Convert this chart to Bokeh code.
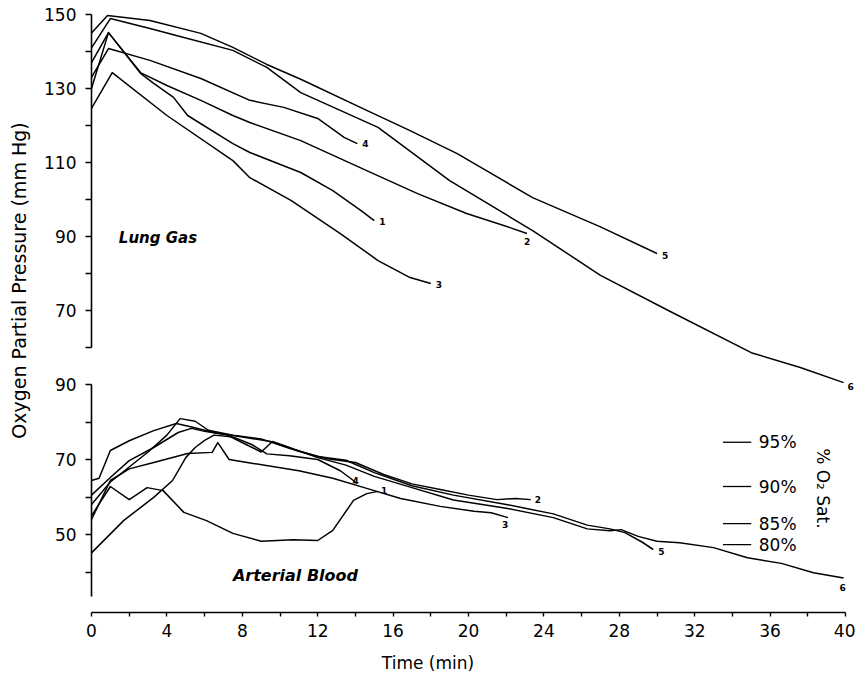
import math
from bokeh.plotting import figure
from bokeh.models import Range1d, LinearAxis, FixedTicker, Label
from bokeh.core.properties import value
from bokeh.embed import file_html
from bokeh.resources import INLINE

# ---------------- data ----------------
# Lung gas PO2 (mm Hg) vs time (min), subjects 1-6
lung1_t = [0, 0.9, 2.6, 3.3, 4.35, 5.1, 7.5, 8.4, 11.1, 12.8, 14.3, 15.0]
lung1_p = [130, 145.1, 134.1, 131.4, 127.6, 122.7, 115.1, 112.7, 107.3, 102.4, 97.0, 94.3]
lung2_t = [0, 0.9, 2.6, 4.0, 5.8, 7.5, 8.4, 11.1, 14.6, 17.3, 19.9, 22.2, 23.1]
lung2_p = [137, 145.1, 134.3, 130.8, 126.8, 122.7, 120.8, 115.9, 107.8, 101.6, 96.2, 92.4, 90.8]
lung3_t = [0, 1.1, 4.0, 7.5, 8.4, 10.6, 13.2, 15.2, 16.9, 18.0]
lung3_p = [124.6, 134.3, 122.7, 110.5, 105.9, 99.7, 90.8, 83.5, 78.9, 77.3]
lung4_t = [0, 0.9, 3.1, 5.8, 8.4, 10.2, 12.0, 13.4, 14.1]
lung4_p = [133, 140.8, 137.6, 132.7, 126.8, 124.9, 121.9, 116.8, 115.1]
lung5_t = [0, 0.85, 3.1, 5.8, 7.5, 9.3, 11.1, 14.6, 16.9, 19.4, 23.4, 27.0, 30.0]
lung5_p = [145, 149.7, 148.4, 144.9, 141.1, 136.5, 132.5, 124.1, 118.6, 112.4, 100.5, 92.6, 85.4]
lung6_t = [0, 1.0, 3.1, 4.9, 7.5, 9.3, 11.1, 15.2, 19.0, 23.4, 27.0, 30.6, 35.0, 37.6, 39.9]
lung6_p = [141, 148.9, 146.2, 143.8, 140.3, 135.7, 128.9, 119.5, 105.1, 91.6, 79.5, 70.0, 58.6, 54.6, 50.5]

# Arterial blood PO2 (mm Hg) vs time (min), subjects 1-6
blood1_t = [0, 1.0, 2.0, 2.95, 3.8, 4.9, 6.1, 7.5, 9.0, 10.7, 12.0, 12.8, 13.9, 14.6, 15.2]
blood1_p = [55, 62.8, 59.3, 62.5, 61.7, 55.9, 53.7, 50.3, 48.2, 48.6, 48.4, 51.1, 59.1, 60.9, 61.5]
blood2_t = [0, 0.4, 1.0, 2.0, 3.3, 4.5, 5.2, 6.5, 8.0, 9.5, 11.0, 12.5, 14.0, 15.5, 17.0, 18.5, 20.0, 21.5, 22.5, 23.3]
blood2_p = [64.4, 65.0, 72.4, 75.0, 77.7, 79.6, 78.8, 77.2, 76.0, 74.8, 72.2, 70.2, 69.2, 66.0, 63.5, 62.0, 60.5, 59.3, 59.6, 59.3]
blood3_t = [0, 1.0, 2.0, 3.3, 5.1, 6.4, 6.7, 7.3, 8.5, 11.0, 12.8, 14.6, 16.4, 18.5, 20.3, 21.2, 22.1]
blood3_p = [54.0, 64.4, 67.5, 69.2, 71.6, 71.9, 74.5, 70.0, 69.0, 67.0, 65.0, 62.3, 59.6, 57.5, 56.2, 55.8, 54.5]
blood4_t = [0, 1.7, 3.3, 4.3, 5.0, 5.5, 6.0, 6.5, 7.5, 8.5, 9.3, 10.5, 12.0, 13.2, 14.0]
blood4_p = [45.1, 53.7, 59.9, 64.4, 70.5, 73.2, 75.1, 76.5, 76.0, 74.0, 71.5, 71.0, 70.0, 67.0, 64.0]
blood5_t = [0, 1.0, 2.0, 3.0, 4.0, 4.7, 5.5, 6.2, 7.5, 9.0, 10.5, 12.0, 13.5, 15.0, 17.0, 19.2, 22.0, 24.5, 26.3, 27.5, 28.3, 29.2, 29.8]
blood5_p = [58, 64, 68, 72, 76.5, 80.9, 80.2, 77.8, 76.5, 75.5, 73.0, 70.8, 69.8, 66.5, 63.0, 60.5, 58.0, 55.5, 52.5, 51.5, 50.5, 48.0, 46.0]
blood6_t = [0, 1.0, 2.0, 3.3, 4.6, 5.3, 6.0, 7.2, 8.2, 9.0, 9.6, 10.5, 12.0, 13.5, 15.0, 17.0, 19.2, 22.0, 24.5, 26.3, 27.5, 28.1, 29.0, 30.0, 31.2, 33.0, 34.8, 36.6, 38.3, 39.9]
blood6_p = [60.5, 65.2, 69.7, 73.2, 77.2, 78.3, 77.5, 76.5, 74.0, 72.0, 74.8, 73.2, 70.5, 68.5, 65.5, 62.5, 59.2, 57.0, 54.5, 51.5, 51.0, 51.3, 49.5, 48.2, 47.8, 46.5, 43.8, 42.3, 39.8, 38.4]

subject_ids = ["1", "2", "3", "4", "5", "6"]

# axes ticks
x_ticks = [0, 4, 8, 12, 16, 20, 24, 28, 32, 36, 40]
x_minor = [2, 6, 10, 14, 18, 22, 26, 30, 34, 38]
lung_ticks = [70, 90, 110, 130, 150]
lung_minor = [60, 80, 100, 120, 140]
blood_ticks = [50, 70, 90]
blood_minor = [40, 60, 80]

# oxygen saturation scale (label, equivalent PO2)
sat_labels = ["95%", "90%", "85%", "80%"]
sat_po2 = [74.6, 62.8, 52.9, 47.3]

# ---------------- figure ----------------
lung_series = [(lung1_t, lung1_p), (lung2_t, lung2_p), (lung3_t, lung3_p),
               (lung4_t, lung4_p), (lung5_t, lung5_p), (lung6_t, lung6_p)]
blood_series = [(blood1_t, blood1_p), (blood2_t, blood2_p), (blood3_t, blood3_p),
                (blood4_t, blood4_p), (blood5_t, blood5_p), (blood6_t, blood6_p)]

FONT = "DejaVu Sans"

# the frame covers the whole plotting area (left margin included) so that
# both vertical axes can share the line at t = 0
p = figure(frame_width=855, frame_height=612,
           x_range=Range1d(-4.828, 40.53), y_range=Range1d(-11.62, 153.78),
           output_backend="svg", toolbar_location=None,
           min_border_left=0, min_border_right=0, min_border_top=0, min_border_bottom=40,
           background_fill_color="white", border_fill_color="white")
p.outline_line_color = None
p.xgrid.visible = False
p.ygrid.visible = False
p.extra_y_ranges = {"blood": Range1d(29.2, 192.4)}


def style_axis(ax, tick_len):
    ax.axis_line_color = "black"
    ax.axis_line_width = 1.6
    ax.major_tick_line_color = "black"
    ax.minor_tick_line_color = "black"
    ax.major_tick_line_width = 1.4
    ax.minor_tick_line_width = 1.4
    ax.major_tick_out = tick_len
    ax.major_tick_in = 0
    ax.minor_tick_out = tick_len
    ax.minor_tick_in = 0
    ax.major_label_text_font = FONT
    ax.major_label_text_font_size = "17px"
    ax.major_label_text_color = "black"


# lung gas axis, placed on t = 0
ya = p.yaxis[0]
ya.fixed_location = 0.000001
ya.ticker = FixedTicker(ticks=lung_ticks, minor_ticks=lung_minor)
ya.bounds = (60, 150)
style_axis(ya, 6)
ya.major_label_standoff = 9

# arterial blood axis (same vertical line, own range)
yb = LinearAxis(y_range_name="blood", fixed_location=0.000001,
                ticker=FixedTicker(ticks=blood_ticks, minor_ticks=blood_minor),
                bounds=(33.5, 90))
style_axis(yb, 6)
yb.major_label_standoff = 9
p.add_layout(yb, "left")

# time axis
xa = p.xaxis[0]
xa.ticker = FixedTicker(ticks=x_ticks, minor_ticks=x_minor)
xa.bounds = (0, 40)
style_axis(xa, 4)
xa.major_label_standoff = 7
xa.axis_label = "Time (min)"
xa.axis_label_text_font = FONT
xa.axis_label_text_font_size = "17px"
xa.axis_label_text_font_style = "normal"
xa.axis_label_text_color = "black"
xa.axis_label_standoff = 13

# curves
for t, v in lung_series:
    p.line(t, v, line_color="black", line_width=1.5, line_join="round")
for t, v in blood_series:
    p.line(t, v, line_color="black", line_width=1.5, line_join="round", y_range_name="blood")

# end-of-curve subject numbers
lab_style = dict(text_font=value(FONT), text_font_style="bold", text_font_size="9px",
                 text_color="black", text_align="left", text_baseline="middle")
lung_dx = [5, -3, 5, 5, 5, 4]
lung_dy = [1, 8, 1, 0, 2, 4]
p.text(x=[s[0][-1] for s in lung_series], y=[s[1][-1] for s in lung_series],
       text=subject_ids, x_offset=lung_dx, y_offset=lung_dy, **lab_style)
blood_dx = [3, 4, -6, -3, 5, -4]
blood_dy = [-1, 0, 7, -2, 2, 9]
p.text(x=[s[0][-1] for s in blood_series], y=[s[1][-1] for s in blood_series],
       text=subject_ids, x_offset=blood_dx, y_offset=blood_dy,
       y_range_name="blood", **lab_style)

# panel titles
p.text(x=[1.45], y=[89.7], text=["Lung Gas"], text_font=value(FONT),
       text_font_style="bold italic", text_font_size="15px", text_color="black",
       text_align="left", text_baseline="middle")
p.text(x=[7.5], y=[39.1], text=["Arterial Blood"], text_font=value(FONT),
       text_font_style="bold italic", text_font_size="16px", text_color="black",
       text_align="left", text_baseline="middle", y_range_name="blood")

# oxygen saturation scale
p.segment(x0=[33.5] * len(sat_po2), y0=sat_po2, x1=[35.0] * len(sat_po2), y1=sat_po2,
          line_color="black", line_width=1.3, y_range_name="blood")
p.text(x=[35.4] * len(sat_po2), y=sat_po2, text=sat_labels, text_font=value(FONT),
       text_font_size="17px", text_color="black", text_align="left",
       text_baseline="middle", y_range_name="blood")
p.text(x=[38.8], y=[62.3], text=["% O\u2082 Sat."], text_font=value(FONT),
       text_font_size="17px", text_color="black", text_align="center",
       text_baseline="middle", angle=-math.pi / 2, y_range_name="blood")

# shared vertical axis title
p.add_layout(Label(x=-3.87, y=78.1, text="Oxygen Partial Pressure (mm Hg)",
                   angle=math.pi / 2, text_align="center", text_baseline="middle",
                   text_font=FONT, text_font_size="19px", text_color="black"))

open("out.html", "w").write(file_html(p, INLINE))
